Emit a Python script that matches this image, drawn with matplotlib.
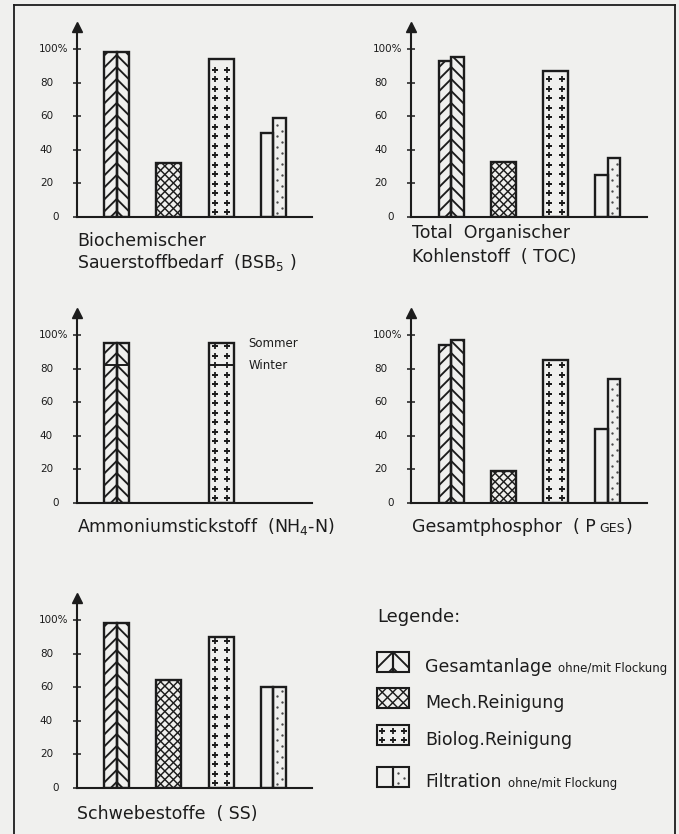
import numpy as np
import matplotlib
matplotlib.use('Agg')
import matplotlib.pyplot as plt
from matplotlib.patches import Rectangle
from matplotlib.collections import LineCollection
from matplotlib.lines import Line2D
from matplotlib.transforms import IdentityTransform, offset_copy

# ---------------- data ----------------
categories = ['Gesamtanlage', 'Mech.Reinigung', 'Biolog.Reinigung', 'Filtration']
flock_note = 'ohne/mit Flockung'
slots = [1, 2, 3, 4]
yticks = [0, 20, 40, 60, 80, 100]
ytick_labels = ['0', '20', '40', '60', '80', '100%']

bsb5_gesamt = [98, 98]        # ohne / mit Flockung
bsb5_mech = 32
bsb5_biolog = 94
bsb5_filtration = [50, 59]    # ohne / mit Flockung

toc_gesamt = [93, 95]
toc_mech = 33
toc_biolog = 87
toc_filtration = [25, 35]

nh4_gesamt = [95, 82]         # Sommer / Winter
nh4_biolog = [95, 82]
season_labels = ['Sommer', 'Winter']

pges_gesamt = [94, 97]
pges_mech = 19
pges_biolog = 85
pges_filtration = [44, 74]

ss_gesamt = [98, 98]
ss_mech = 64
ss_biolog = 90
ss_filtration = [60, 60]

# ---------------- style ----------------
W, H, DPI = 679, 834, 100
PAPER = '#f0f0ee'
INK = '#1c1c1c'
BAR_W = 0.48
PX_PER_PCT = 1.68
AX_W, AX_H = 235, 190
XLIM = (0.24, 4.74)
BIG = 12.5
SMALL = 8.5

plt.rcParams['font.family'] = ['DejaVu Sans']
plt.rcParams['mathtext.fontset'] = 'dejavusans'

fig = plt.figure(figsize=(W / DPI, H / DPI), dpi=DPI, facecolor=PAPER)
IDT = IdentityTransform()


def fy(y):
    return 1 - y / H


def disp_box(patch):
    bb = patch.get_window_extent()
    return bb.x0, bb.y0, bb.x1, bb.y1


def clip_to(artist, patch):
    # clip to the bar outline (path + transform keeps it a real clip path)
    artist.set_clip_path(patch.get_path(), patch.get_transform())


def chevrons(cont, patch, side, spacing=12.0, phase=6.0, lw=1.35, z=2.5):
    x0, y0, x1, y1 = disp_box(patch)
    w = x1 - x0
    ks = np.arange(y0 + phase, y1 + w + spacing, spacing)
    if side == 'left':
        segs = [[(x0, k - w), (x1, k)] for k in ks]
    else:
        segs = [[(x0, k), (x1, k - w)] for k in ks]
    lc = LineCollection(segs, colors=INK, linewidths=lw, transform=IDT, zorder=z)
    clip_to(lc, patch)
    cont.add_artist(lc)


def crosses(cont, patch, spacing=8.5, lw=1.05, z=2.5):
    x0, y0, x1, y1 = disp_box(patch)
    w, h = x1 - x0, y1 - y0
    ts = x0 + spacing * np.arange(-np.ceil(h / spacing) - 2, np.ceil((w + h) / spacing) + 2)
    segs = [[(t, y0), (t + h, y1)] for t in ts] + [[(t, y0), (t - h, y1)] for t in ts]
    lc = LineCollection(segs, colors=INK, linewidths=lw, transform=IDT, zorder=z)
    clip_to(lc, patch)
    cont.add_artist(lc)


def pluses(cont, patch, ncols=2, step=9.5, start=5.0, ms=5.0, mew=1.3, z=2.5):
    x0, y0, x1, y1 = disp_box(patch)
    w = x1 - x0
    cols = x0 + w * (np.arange(ncols) + 0.5) / ncols
    rows = np.arange(y0 + start, y1 - 2, step)
    xs, ys = np.meshgrid(cols, rows)
    ln = Line2D(xs.ravel(), ys.ravel(), ls='none', marker='+', ms=ms, mew=mew,
                color=INK, transform=IDT, zorder=z)
    clip_to(ln, patch)
    cont.add_artist(ln)


def dots(cont, patch, step=5.5, start=4.0, ms=1.7, z=2.5):
    x0, y0, x1, y1 = disp_box(patch)
    w = x1 - x0
    rows = np.arange(y0 + start, y1 - 2, step)
    xs = np.where(np.arange(len(rows)) % 2 == 0, x0 + 0.32 * w, x0 + 0.7 * w)
    ln = Line2D(xs, rows, ls='none', marker='o', ms=ms, mew=0, color='#4a4a4a',
                transform=IDT, zorder=z)
    clip_to(ln, patch)
    cont.add_artist(ln)


def make_axes(ax_x, base_y):
    ax = fig.add_axes([ax_x / W, fy(base_y), AX_W / W, AX_H / H])
    ax.set_xlim(*XLIM)
    ax.set_ylim(0, AX_H / PX_PER_PCT)
    ax.set_autoscale_on(False)
    ax.patch.set_visible(False)
    for s in ['top', 'right']:
        ax.spines[s].set_visible(False)
    for s in ['left', 'bottom']:
        ax.spines[s].set_linewidth(1.5)
        ax.spines[s].set_color(INK)
    ax.set_xticks([])
    ax.set_yticks(yticks)
    ax.set_yticklabels([])
    ax.tick_params(axis='y', direction='inout', length=6, width=1.1, color=INK)
    ax.plot([0], [1], marker='^', markersize=7, color=INK, transform=ax.transAxes,
            clip_on=False, zorder=4)
    for v, lab in zip(yticks, ytick_labels):
        off = 9 if lab.endswith('%') else (18 if v == 0 else 24)
        tr = offset_copy(ax.get_yaxis_transform(), fig=fig, x=-off, y=0, units='dots')
        ax.text(0, v, lab, transform=tr, ha='right', va='center', fontsize=7.5, color=INK)
    return ax


def bars(ax, xs, hs, width):
    fill = ax.bar(xs, hs, width=width, facecolor=PAPER, edgecolor='none', zorder=2)
    return list(fill)


def outline(ax, xs, hs, width):
    ax.bar(xs, hs, width=width, fill=False, edgecolor=INK, linewidth=1.7, zorder=3)


def draw_gesamt(ax, pos, vals):
    xs = [pos - BAR_W / 4, pos + BAR_W / 4]
    p = bars(ax, xs, vals, BAR_W / 2)
    chevrons(ax, p[0], 'left')
    chevrons(ax, p[1], 'right')
    outline(ax, xs, vals, BAR_W / 2)


def draw_mech(ax, pos, val):
    p = bars(ax, [pos], [val], BAR_W)
    crosses(ax, p[0])
    outline(ax, [pos], [val], BAR_W)


def draw_biolog(ax, pos, val):
    p = bars(ax, [pos], [val], BAR_W)
    pluses(ax, p[0])
    outline(ax, [pos], [val], BAR_W)


def draw_filtration(ax, pos, vals):
    xs = [pos - BAR_W / 4, pos + BAR_W / 4]
    p = bars(ax, xs, vals, BAR_W / 2)
    dots(ax, p[1])
    outline(ax, xs, vals, BAR_W / 2)


def full_panel(ax_x, base_y, gesamt, mech, biolog, filtration):
    ax = make_axes(ax_x, base_y)
    draw_gesamt(ax, slots[0], gesamt)
    draw_mech(ax, slots[1], mech)
    draw_biolog(ax, slots[2], biolog)
    draw_filtration(ax, slots[3], filtration)
    return ax


renderer = fig.canvas.get_renderer()


def text_chain(x, y, parts):
    """parts: list of (string, fontsize, gap_px_before)"""
    cx = x
    for s, size, gap in parts:
        cx += gap
        t = fig.text(cx / W, fy(y), s, fontsize=size, va='baseline', ha='left', color=INK)
        cx = t.get_window_extent(renderer=renderer).x1
    return cx


# ---------------- panels ----------------
full_panel(77, 217, bsb5_gesamt, bsb5_mech, bsb5_biolog, bsb5_filtration)
text_chain(77, 246, [('Biochemischer', BIG, 0)])
text_chain(77, 268, [('Sauerstoffbedarf  (BSB$_5$ )', BIG, 0)])

full_panel(411.5, 217, toc_gesamt, toc_mech, toc_biolog, toc_filtration)
text_chain(412, 238, [('Total  Organischer', BIG, 0)])
text_chain(412, 262, [('Kohlenstoff  ( TOC)', BIG, 0)])

ax3 = make_axes(77, 503)
draw_gesamt(ax3, slots[0], [nh4_gesamt[0], nh4_gesamt[0]])
draw_biolog(ax3, slots[2], nh4_biolog[0])
for pos, vals in [(slots[0], nh4_gesamt), (slots[2], nh4_biolog)]:
    ax3.plot([pos - BAR_W / 2, pos + BAR_W / 2], [vals[1], vals[1]], color=INK, lw=1.4, zorder=3)
for v, lab in zip(nh4_biolog, season_labels):
    ax3.text(slots[2] + BAR_W / 2 + 0.28, v, lab, ha='left', va='center', fontsize=SMALL, color=INK)
text_chain(77, 532, [('Ammoniumstickstoff  (NH$_4$-N)', BIG, 0)])

full_panel(411.5, 503, pges_gesamt, pges_mech, pges_biolog, pges_filtration)
text_chain(412, 532, [('Gesamtphosphor  ( P', BIG, 0), ('GES', 9, 3), (')', BIG, 1)])

full_panel(77, 788, ss_gesamt, ss_mech, ss_biolog, ss_filtration)
text_chain(77, 819, [('Schwebestoffe  ( SS)', BIG, 0)])

# ---------------- legend ----------------
fig.text(377 / W, fy(622), 'Legende:', fontsize=13, va='baseline', ha='left', color=INK)
leg_tops = [652, 688, 725, 767]
BX, BW, BH = 377, 32, 20


def leg_rect(x, top, w, fill=True, z=5):
    r = Rectangle((x, H - top - BH), w, BH, transform=IDT,
                  facecolor=PAPER if fill else 'none',
                  edgecolor='none' if fill else INK, linewidth=1.5, zorder=z)
    fig.add_artist(r)
    return r


# Gesamtanlage
t = leg_tops[0]
l = leg_rect(BX, t, BW / 2)
r = leg_rect(BX + BW / 2, t, BW / 2)
chevrons(fig, l, 'left', spacing=16, phase=4, z=6)
chevrons(fig, r, 'right', spacing=16, phase=4, z=6)
leg_rect(BX, t, BW / 2, fill=False, z=7)
leg_rect(BX + BW / 2, t, BW / 2, fill=False, z=7)
# Mech
t = leg_tops[1]
m = leg_rect(BX, t, BW)
crosses(fig, m, spacing=10.5, z=6)
leg_rect(BX, t, BW, fill=False, z=7)
# Biolog
t = leg_tops[2]
b = leg_rect(BX, t, BW)
pluses(fig, b, ncols=3, step=8.5, start=5.5, ms=5, z=6)
leg_rect(BX, t, BW, fill=False, z=7)
# Filtration
t = leg_tops[3]
l = leg_rect(BX, t, BW / 2)
r = leg_rect(BX + BW / 2, t, BW / 2)
dots(fig, r, step=5.0, start=4.0, z=6)
leg_rect(BX, t, BW / 2, fill=False, z=7)
leg_rect(BX + BW / 2, t, BW / 2, fill=False, z=7)

for i, (name, top) in enumerate(zip(categories, leg_tops)):
    parts = [(name, BIG, 0)]
    if i in (0, 3):
        parts.append((flock_note, SMALL, 6))
    text_chain(425, top + BH, parts)

# ---------------- frame ----------------
frame_kw = dict(color=INK, lw=1.3, transform=IDT)
fig.add_artist(Line2D([13.5, 13.5], [0, H - 5], **frame_kw))
fig.add_artist(Line2D([13.5, 675], [H - 5, H - 5], **frame_kw))
fig.add_artist(Line2D([675, 675], [0, H - 5], **frame_kw))

fig.savefig('out.png', dpi=DPI, facecolor=PAPER)
